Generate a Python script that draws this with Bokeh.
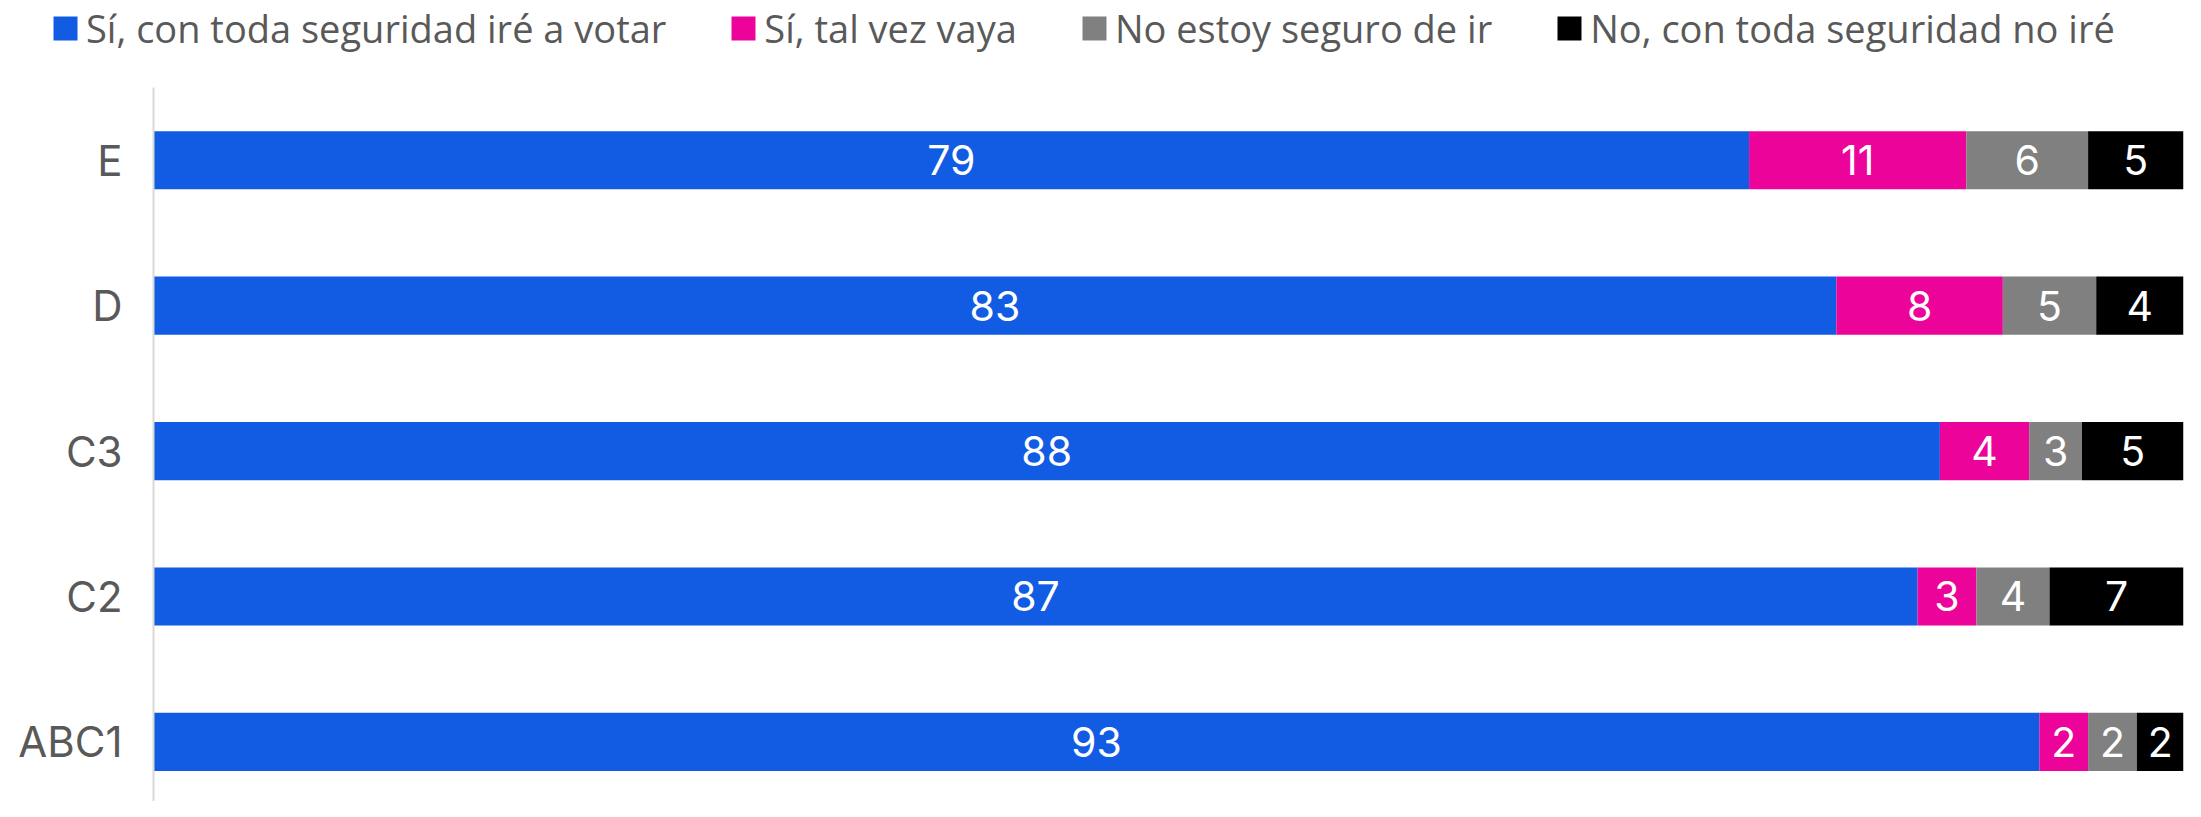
from bokeh.plotting import figure
from bokeh.layouts import column, row
from bokeh.models import ColumnDataSource, Range1d, FixedTicker, Legend, LegendItem
from bokeh.core.properties import value
from bokeh.embed import file_html
from bokeh.resources import INLINE

# ---- data (percent of each socioeconomic group) ----
categories = ["E", "D", "C3", "C2", "ABC1"]
si_seguro = [78.6, 82.9, 88.0, 86.9, 92.9]
tal_vez = [10.7, 8.2, 4.4, 2.9, 2.4]
no_seguro = [6.0, 4.6, 2.6, 3.6, 2.4]
no_ire = [4.7, 4.3, 5.0, 6.6, 2.3]

series_names = [
    "Sí, con toda seguridad iré a votar",
    "Sí, tal vez vaya",
    "No estoy seguro de ir",
    "No, con toda seguridad no iré",
]
series_keys = ["si_seguro", "tal_vez", "no_seguro", "no_ire"]
colors = ["#125BE3", "#EC0399", "#808080", "#000000"]

n = len(categories)
ypos = [n - 1 - i for i in range(n)]  # first category on top

data = dict(cat=categories, y=ypos, si_seguro=si_seguro, tal_vez=tal_vez,
            no_seguro=no_seguro, no_ire=no_ire)
source = ColumnDataSource(data)

# ---------------- main chart ----------------
p = figure(width=2185, height=714,
           x_range=Range1d(0, 100), y_range=Range1d(-0.41, n - 0.5),
           output_backend="svg", toolbar_location=None, x_axis_location=None,
           min_border_left=153, min_border_right=2, min_border_top=0,
           min_border_bottom=0, outline_line_color=None,
           background_fill_color="white", border_fill_color="white")

p.hbar_stack(series_keys, y="y", height=0.4, fill_color=colors,
             line_color=None, source=source)

# segment labels
lx, ly, lt = [], [], []
cum = [0.0] * n
for key in series_keys:
    vals = data[key]
    for i in range(n):
        lx.append(cum[i] + vals[i] / 2)
        ly.append(ypos[i])
        lt.append(f"{vals[i]:.0f}")
        cum[i] += vals[i]
lab_src = ColumnDataSource(dict(x=lx, y=ly, text=lt))
p.text(x="x", y="y", text="text", source=lab_src, text_color="white",
       text_font=value("Inter"), text_font_size="41px",
       text_align="center", text_baseline="middle")

p.yaxis.ticker = FixedTicker(ticks=ypos)
p.yaxis.major_label_overrides = {y: c for y, c in zip(ypos, categories)}
p.yaxis.major_tick_line_color = None
p.yaxis.minor_tick_line_color = None
p.yaxis.major_tick_out = 0
p.yaxis.major_label_standoff = 31
p.yaxis.axis_line_color = "#d9d9d9"
p.yaxis.axis_line_width = 2
p.yaxis.major_label_text_font = "Inter"
p.yaxis.major_label_text_font_size = "42px"
p.yaxis.major_label_text_color = "#595959"
p.grid.grid_line_color = None

# ---------------- legend strip ----------------
lg = figure(width=2185, height=87, output_backend="svg", toolbar_location=None,
            x_axis_location=None, y_axis_location=None,
            min_border_left=0, min_border_right=0, min_border_top=0,
            min_border_bottom=0, outline_line_color=None,
            background_fill_color="white", border_fill_color="white")
lg.grid.grid_line_color = None
leg_renderers = lg.hbar_stack(series_keys, y="y", height=0.4, fill_color=colors,
                              line_color=None, source=source, visible=False)

legend = Legend(
    items=[LegendItem(label=nm, renderers=[r]) for nm, r in zip(series_names, leg_renderers)],
    location=(50, 33), orientation="horizontal",
    glyph_width=30, glyph_height=30, label_standoff=6, spacing=62,
    padding=0, margin=0, border_line_color=None, background_fill_alpha=0,
    label_text_font="Open Sans", label_text_font_size="38px",
    label_text_color="#595959",
)
lg.add_layout(legend, "center")

layout = column(row(lg), p, spacing=0)
open("out.html", "w").write(file_html(layout, INLINE))
